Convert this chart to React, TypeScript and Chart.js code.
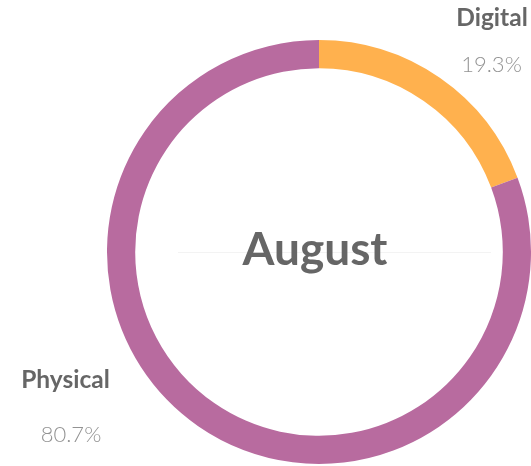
import React, { useEffect, useRef } from "react";
import { Chart, registerables } from "chart.js";

Chart.register(...registerables);

const categories = ["Digital", "Physical"];
const values = [19.3, 80.7];
const percentLabels = ["19.3%", "80.7%"];
const colors = ["#FFB14E", "#B86B9F"];
const centerTitle = "August";

const FONT = "Lato, 'Noto Sans', sans-serif";

const labelPlugin = {
  id: "labelPlugin",
  afterDraw(chart: any) {
    const ctx = chart.ctx;
    const meta = chart.getDatasetMeta(0);
    const arc = meta.data[0];
    const cx = arc.x;
    const cy = arc.y;
    ctx.save();
    // faint center line
    ctx.strokeStyle = "#f3f3f3";
    ctx.lineWidth = 1;
    ctx.beginPath();
    ctx.moveTo(cx - 141, cy + 0.5);
    ctx.lineTo(cx + 172, cy + 0.5);
    ctx.stroke();

    ctx.textAlign = "center";
    ctx.textBaseline = "alphabetic";
    ctx.fillStyle = "#666666";
    ctx.font = `bold 46px ${FONT}`;
    ctx.fillText(centerTitle, cx - 4, cy + 13);

    const pos = [
      { x: 492, x2: 491.5, y1: 26, y2: 72 },
      { x: 65.5, x2: 71, y1: 387.5, y2: 442 },
    ];
    categories.forEach((c, i) => {
      const p = pos[i];
      ctx.fillStyle = "#666666";
      ctx.font = `bold 24.5px ${FONT}`;
      ctx.fillText(c, p.x, p.y1);
      ctx.fillStyle = "#939393";
      ctx.font = `300 22px ${FONT}`;
      ctx.fillText(percentLabels[i], p.x2, p.y2);
    });
    ctx.restore();
  },
};

export default function App() {
  const ref = useRef<HTMLCanvasElement>(null);
  useEffect(() => {
    const chart = new Chart(ref.current!, {
      type: "doughnut",
      data: {
        labels: categories,
        datasets: [
          {
            data: values,
            backgroundColor: colors,
            borderWidth: 0,
          },
        ],
      },
      options: {
        responsive: false,
        animation: false,
        cutout: "86.7%",
        layout: { padding: { top: 40, bottom: 2, left: 107, right: 0 } },
        plugins: { legend: { display: false }, tooltip: { enabled: false } },
      },
      plugins: [labelPlugin],
    });
    return () => chart.destroy();
  }, []);
  return (
    <div style={{ position: "fixed", left: 0, top: 0, width: 531, height: 466, background: "#fff" }}>
      <canvas ref={ref} width={531} height={466} />
    </div>
  );
}
